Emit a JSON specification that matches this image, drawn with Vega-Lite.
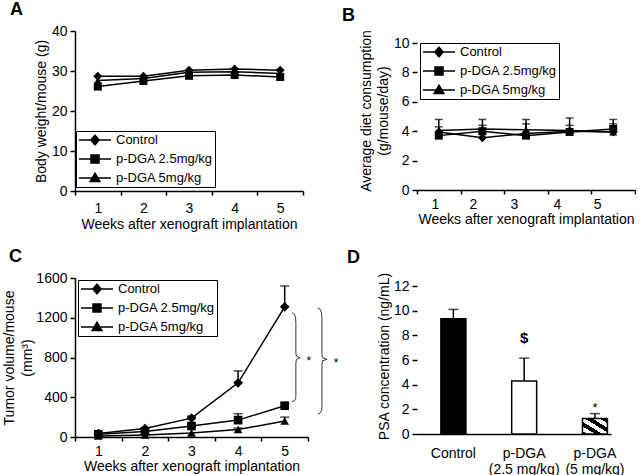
{
  "$schema": "https://vega.github.io/schema/vega-lite/v6.json",
  "padding": {"left": 2, "top": 1, "right": 0, "bottom": 0},
  "columns": 2,
  "spacing": {"row": 87, "column": 109},
  "bounds": "flush",
  "align": "each",
  "resolve": {"scale": {"shape": "independent"}, "legend": {"shape": "independent"}},
  "config": {
    "font": "Liberation Sans",
    "view": {"stroke": null},
    "axis": {"grid": false, "domainColor": "black", "domainWidth": 1.5, "tickColor": "black", "tickWidth": 1.5, "tickSize": 5, "labelColor": "black", "labelFontSize": 14, "labelFont": "Liberation Sans", "titleColor": "black", "titleFontSize": 14, "titleFont": "Liberation Sans", "titleFontWeight": "normal", "labelPadding": 3},
    "legend": {"orient": "none", "title": null, "direction": "vertical", "strokeColor": "black", "fillColor": "white", "padding": 2, "symbolSize": 1024, "symbolStrokeWidth": 1.5, "symbolFillColor": "black", "symbolStrokeColor": "black", "symbolOpacity": 1, "labelFontSize": 13, "labelFont": "Liberation Sans", "labelColor": "black", "clipHeight": 14, "rowPadding": 5, "labelOffset": 4},
    "title": {"fontSize": 18, "fontWeight": "bold", "anchor": "start", "frame": "group", "color": "black", "font": "Liberation Sans", "offset": 5}
  },
  "datasets": {
    "bw": [
      {"week": 1, "series": "Control", "value": 28.7},
      {"week": 2, "series": "Control", "value": 28.7},
      {"week": 3, "series": "Control", "value": 30.2},
      {"week": 4, "series": "Control", "value": 30.5},
      {"week": 5, "series": "Control", "value": 30.2},
      {"week": 1, "series": "p-DGA 2.5mg/kg", "value": 26.1},
      {"week": 2, "series": "p-DGA 2.5mg/kg", "value": 27.5},
      {"week": 3, "series": "p-DGA 2.5mg/kg", "value": 28.8},
      {"week": 4, "series": "p-DGA 2.5mg/kg", "value": 29.0},
      {"week": 5, "series": "p-DGA 2.5mg/kg", "value": 28.5},
      {"week": 1, "series": "p-DGA 5mg/kg", "value": 27.6},
      {"week": 2, "series": "p-DGA 5mg/kg", "value": 28.1},
      {"week": 3, "series": "p-DGA 5mg/kg", "value": 29.7},
      {"week": 4, "series": "p-DGA 5mg/kg", "value": 29.8},
      {"week": 5, "series": "p-DGA 5mg/kg", "value": 29.4}
    ],
    "diet": [
      {"week": 1, "series": "Control", "value": 3.95, "hi": 4.8},
      {"week": 2, "series": "Control", "value": 3.55, "hi": 4.8},
      {"week": 3, "series": "Control", "value": 3.85, "hi": 4.5},
      {"week": 4, "series": "Control", "value": 4.0, "hi": 4.4},
      {"week": 5, "series": "Control", "value": 3.95, "hi": 4.8},
      {"week": 1, "series": "p-DGA 2.5mg/kg", "value": 3.7, "hi": 4.3},
      {"week": 2, "series": "p-DGA 2.5mg/kg", "value": 4.0, "hi": 4.4},
      {"week": 3, "series": "p-DGA 2.5mg/kg", "value": 3.7, "hi": null},
      {"week": 4, "series": "p-DGA 2.5mg/kg", "value": 3.95, "hi": null},
      {"week": 5, "series": "p-DGA 2.5mg/kg", "value": 4.15, "hi": 4.5},
      {"week": 1, "series": "p-DGA 5mg/kg", "value": 4.05, "hi": null},
      {"week": 2, "series": "p-DGA 5mg/kg", "value": 4.15, "hi": null},
      {"week": 3, "series": "p-DGA 5mg/kg", "value": 4.1, "hi": 4.8},
      {"week": 4, "series": "p-DGA 5mg/kg", "value": 4.05, "hi": 4.9},
      {"week": 5, "series": "p-DGA 5mg/kg", "value": 3.95, "hi": null}
    ],
    "tumor": [
      {"week": 1, "series": "Control", "value": 35, "hi": null},
      {"week": 2, "series": "Control", "value": 85, "hi": null},
      {"week": 3, "series": "Control", "value": 190, "hi": 210},
      {"week": 4, "series": "Control", "value": 545, "hi": 665},
      {"week": 5, "series": "Control", "value": 1310, "hi": 1520},
      {"week": 1, "series": "p-DGA 2.5mg/kg", "value": 28, "hi": null},
      {"week": 2, "series": "p-DGA 2.5mg/kg", "value": 55, "hi": null},
      {"week": 3, "series": "p-DGA 2.5mg/kg", "value": 110, "hi": 130},
      {"week": 4, "series": "p-DGA 2.5mg/kg", "value": 170, "hi": 235},
      {"week": 5, "series": "p-DGA 2.5mg/kg", "value": 315, "hi": 340},
      {"week": 1, "series": "p-DGA 5mg/kg", "value": 10, "hi": null},
      {"week": 2, "series": "p-DGA 5mg/kg", "value": 20, "hi": null},
      {"week": 3, "series": "p-DGA 5mg/kg", "value": 40, "hi": null},
      {"week": 4, "series": "p-DGA 5mg/kg", "value": 75, "hi": 90},
      {"week": 5, "series": "p-DGA 5mg/kg", "value": 160, "hi": 200}
    ],
    "braces": [
      {"b": 1, "o": 1, "week": 5.16, "value": 1250},
      {"b": 1, "o": 2, "week": 5.21, "value": 1235},
      {"b": 1, "o": 3, "week": 5.235, "value": 1200},
      {"b": 1, "o": 4, "week": 5.24, "value": 1140},
      {"b": 1, "o": 5, "week": 5.24, "value": 850},
      {"b": 1, "o": 6, "week": 5.25, "value": 815},
      {"b": 1, "o": 7, "week": 5.33, "value": 797},
      {"b": 1, "o": 8, "week": 5.25, "value": 780},
      {"b": 1, "o": 9, "week": 5.24, "value": 745},
      {"b": 1, "o": 10, "week": 5.24, "value": 420},
      {"b": 1, "o": 11, "week": 5.235, "value": 385},
      {"b": 1, "o": 12, "week": 5.21, "value": 365},
      {"b": 1, "o": 13, "week": 5.16, "value": 355},
      {"b": 2, "o": 1, "week": 5.71, "value": 1300},
      {"b": 2, "o": 2, "week": 5.76, "value": 1285},
      {"b": 2, "o": 3, "week": 5.79, "value": 1250},
      {"b": 2, "o": 4, "week": 5.8, "value": 1190},
      {"b": 2, "o": 5, "week": 5.8, "value": 830},
      {"b": 2, "o": 6, "week": 5.81, "value": 798},
      {"b": 2, "o": 7, "week": 5.91, "value": 782},
      {"b": 2, "o": 8, "week": 5.81, "value": 766},
      {"b": 2, "o": 9, "week": 5.8, "value": 735},
      {"b": 2, "o": 10, "week": 5.8, "value": 300},
      {"b": 2, "o": 11, "week": 5.79, "value": 265},
      {"b": 2, "o": 12, "week": 5.76, "value": 242},
      {"b": 2, "o": 13, "week": 5.71, "value": 230}
    ],
    "stars": [
      {"week": 5.52, "value": 760, "t": "*"},
      {"week": 6.1, "value": 745, "t": "*"}
    ],
    "psa": [
      {"group": "Control", "value": 9.35, "hi": 10.1, "mark": ""},
      {"group": "p-DGA 2.5", "value": 4.3, "hi": 6.15, "mark": "$"},
      {"group": "p-DGA 5", "value": 1.25, "hi": 1.65, "mark": "*"}
    ]
  },
  "concat": [
    {
      "width": 228, "height": 160,
      "title": {"text": "A", "dx": -65},
      "data": {"name": "bw"},
      "encoding": {
        "x": {"field": "week", "type": "quantitative", "scale": {"domain": [0.5, 5.5], "nice": false, "zero": false},
          "axis": {"values": [0.5, 1, 1.5, 2, 2.5, 3, 3.5, 4, 4.5, 5, 5.5], "labelExpr": "datum.value % 1 == 0 ? format(datum.value, 'd') : ''", "tickOpacity": {"condition": {"test": "datum.value % 1 == 0", "value": 0}, "value": 1}, "tickSize": 4, "labelPadding": 6, "title": "Weeks after xenograft implantation", "titlePadding": 2}},
        "y": {"field": "value", "type": "quantitative", "scale": {"domain": [0, 40], "nice": false},
          "axis": {"values": [0, 10, 20, 30, 40], "title": "Body weight/mouse (g)", "titlePadding": 3}}
      },
      "layer": [
        {"mark": {"type": "line", "color": "black", "strokeWidth": 1.5}, "encoding": {"detail": {"field": "series"}}},
        {"transform": [{"filter": "datum.series == 'Control'"}], "mark": {"type": "point", "shape": "diamond", "filled": true, "color": "black", "opacity": 1, "size": 80}},
        {"transform": [{"filter": "datum.series == 'p-DGA 2.5mg/kg'"}], "mark": {"type": "point", "shape": "square", "filled": true, "color": "black", "opacity": 1, "size": 64}},
        {"transform": [{"filter": "datum.series == 'p-DGA 5mg/kg'"}], "mark": {"type": "point", "shape": "triangle-up", "filled": true, "color": "black", "opacity": 1, "size": 64}},
        {"mark": {"type": "point", "filled": false, "color": "black", "strokeWidth": 1.5, "opacity": 0},
          "encoding": {"shape": {"field": "series", "type": "nominal", "scale": {"domain": ["Control", "p-DGA 2.5mg/kg", "p-DGA 5mg/kg"], "range": [
            "M-1,0L1,0M0,-0.3L0.26,0L0,0.3L-0.26,0ZM0,-0.23L0.2,0L0,0.23L-0.2,0ZM0,-0.16L0.14,0L0,0.16L-0.14,0ZM0,-0.09L0.08,0L0,0.09L-0.08,0ZM0,-0.02L0.02,0L0,0.02L-0.02,0Z",
            "M-1,0L1,0M-0.25,-0.25L0.25,-0.25L0.25,0.25L-0.25,0.25ZM-0.19,-0.19L0.19,-0.19L0.19,0.19L-0.19,0.19ZM-0.13,-0.13L0.13,-0.13L0.13,0.13L-0.13,0.13ZM-0.07,-0.07L0.07,-0.07L0.07,0.07L-0.07,0.07ZM-0.01,-0.01L0.01,-0.01L0.01,0.01L-0.01,0.01Z",
            "M-1,0L1,0M0,-0.3L0.3,0.22L-0.3,0.22ZM0,-0.213L0.225,0.177L-0.225,0.177ZM0,-0.127L0.15,0.134L-0.15,0.134ZM0,-0.04L0.075,0.09L-0.075,0.09Z"]},
            "legend": {"legendX": 1, "legendY": 100, "encode": {"symbols": {"update": {"stroke": {"value": "black"}, "strokeWidth": {"value": 1.5}, "opacity": {"value": 1}}}, "legend": {"update": {"stroke": {"value": "black"}, "strokeWidth": {"value": 1}}}}}}}}
      ]
    },
    {
      "width": 218, "height": 159,
      "title": {"text": "B", "dx": -75},
      "data": {"name": "diet"},
      "encoding": {
        "x": {"field": "week", "type": "quantitative", "scale": {"domain": [0.5, 5.5], "nice": false, "zero": false},
          "axis": {"values": [0.5, 0.91, 1.5, 1.78, 2.5, 2.72, 3.5, 3.71, 4.5, 4.63, 5.5], "labelExpr": "datum.value % 1 == 0.5 ? '' : format(round(datum.value), 'd')", "tickOpacity": {"condition": {"test": "datum.value % 1 != 0.5", "value": 0}, "value": 1}, "tickSize": 4, "labelPadding": 3, "title": "Weeks after xenograft implantation", "titlePadding": 1}},
        "y": {"field": "value", "type": "quantitative", "scale": {"domain": [0, 10.82], "nice": false},
          "axis": {"values": [0, 2, 4, 6, 8, 10], "domain": false, "title": ["Average diet consumption", "(g/mouse/day)"], "titleLineHeight": 17, "titlePadding": 3}}
      },
      "layer": [
        {"data": {"values": [{}]}, "mark": {"type": "rule", "color": "black", "strokeWidth": 1.5},
          "encoding": {"x": {"datum": 0.5, "type": "quantitative"}, "y": {"datum": 0, "type": "quantitative"}, "y2": {"datum": 10}}},
        {"mark": {"type": "line", "color": "black", "strokeWidth": 1.5}, "encoding": {"detail": {"field": "series"}}},
        {"transform": [{"filter": "datum.hi != null"}], "mark": {"type": "rule", "color": "black", "strokeWidth": 1.5}, "encoding": {"y2": {"field": "hi"}}},
        {"transform": [{"filter": "datum.hi != null"}], "mark": {"type": "tick", "orient": "horizontal", "color": "black", "size": 8, "thickness": 1.5}, "encoding": {"y": {"field": "hi", "type": "quantitative"}}},
        {"transform": [{"filter": "datum.series == 'Control'"}], "mark": {"type": "point", "shape": "diamond", "filled": true, "color": "black", "opacity": 1, "size": 80}},
        {"transform": [{"filter": "datum.series == 'p-DGA 2.5mg/kg'"}], "mark": {"type": "point", "shape": "square", "filled": true, "color": "black", "opacity": 1, "size": 64}},
        {"transform": [{"filter": "datum.series == 'p-DGA 5mg/kg'"}], "mark": {"type": "point", "shape": "triangle-up", "filled": true, "color": "black", "opacity": 1, "size": 64}},
        {"mark": {"type": "point", "filled": false, "color": "black", "strokeWidth": 1.5, "opacity": 0},
          "encoding": {"shape": {"field": "series", "type": "nominal", "scale": {"domain": ["Control", "p-DGA 2.5mg/kg", "p-DGA 5mg/kg"], "range": [
            "M-1,0L1,0M0,-0.3L0.26,0L0,0.3L-0.26,0ZM0,-0.23L0.2,0L0,0.23L-0.2,0ZM0,-0.16L0.14,0L0,0.16L-0.14,0ZM0,-0.09L0.08,0L0,0.09L-0.08,0ZM0,-0.02L0.02,0L0,0.02L-0.02,0Z",
            "M-1,0L1,0M-0.25,-0.25L0.25,-0.25L0.25,0.25L-0.25,0.25ZM-0.19,-0.19L0.19,-0.19L0.19,0.19L-0.19,0.19ZM-0.13,-0.13L0.13,-0.13L0.13,0.13L-0.13,0.13ZM-0.07,-0.07L0.07,-0.07L0.07,0.07L-0.07,0.07ZM-0.01,-0.01L0.01,-0.01L0.01,0.01L-0.01,0.01Z",
            "M-1,0L1,0M0,-0.3L0.3,0.22L-0.3,0.22ZM0,-0.213L0.225,0.177L-0.225,0.177ZM0,-0.127L0.15,0.134L-0.15,0.134ZM0,-0.04L0.075,0.09L-0.075,0.09Z"]},
            "legend": {"legendX": 3, "legendY": 12, "encode": {"symbols": {"update": {"stroke": {"value": "black"}, "strokeWidth": {"value": 1.5}, "opacity": {"value": 1}}}, "legend": {"update": {"stroke": {"value": "black"}, "strokeWidth": {"value": 1}}}}}}}}
      ]
    },
    {
      "width": 233, "height": 159,
      "title": {"text": "C", "dx": -66},
      "data": {"name": "tumor"},
      "encoding": {
        "x": {"field": "week", "type": "quantitative", "scale": {"domain": [0.5, 5.5], "nice": false, "zero": false},
          "axis": {"values": [0.5, 1, 1.5, 2, 2.5, 3, 3.5, 4, 4.5, 5, 5.5], "labelExpr": "datum.value % 1 == 0 ? format(datum.value, 'd') : ''", "tickOpacity": {"condition": {"test": "datum.value % 1 == 0", "value": 0}, "value": 1}, "tickSize": 4, "labelPadding": 3, "title": "Weeks after xenograft implantation", "titlePadding": 1}},
        "y": {"field": "value", "type": "quantitative", "scale": {"domain": [0, 1600], "nice": false},
          "axis": {"values": [0, 400, 800, 1200, 1600], "format": "d", "title": ["Tumor volume/mouse", "(mm³)"], "titleLineHeight": 18, "titlePadding": 1}}
      },
      "layer": [
        {"mark": {"type": "line", "color": "black", "strokeWidth": 1.5}, "encoding": {"detail": {"field": "series"}}},
        {"transform": [{"filter": "datum.hi != null"}], "mark": {"type": "rule", "color": "black", "strokeWidth": 1.5}, "encoding": {"y2": {"field": "hi"}}},
        {"transform": [{"filter": "datum.hi != null"}], "mark": {"type": "tick", "orient": "horizontal", "color": "black", "size": 9, "thickness": 1.5}, "encoding": {"y": {"field": "hi", "type": "quantitative"}}},
        {"transform": [{"filter": "datum.series == 'Control'"}], "mark": {"type": "point", "shape": "diamond", "filled": true, "color": "black", "opacity": 1, "size": 95}},
        {"transform": [{"filter": "datum.series == 'p-DGA 2.5mg/kg'"}], "mark": {"type": "point", "shape": "square", "filled": true, "color": "black", "opacity": 1, "size": 75}},
        {"transform": [{"filter": "datum.series == 'p-DGA 5mg/kg'"}], "mark": {"type": "point", "shape": "triangle-up", "filled": true, "color": "black", "opacity": 1, "size": 75}},
        {"mark": {"type": "point", "filled": false, "color": "black", "strokeWidth": 1.5, "opacity": 0},
          "encoding": {"shape": {"field": "series", "type": "nominal", "scale": {"domain": ["Control", "p-DGA 2.5mg/kg", "p-DGA 5mg/kg"], "range": [
            "M-1,0L1,0M0,-0.3L0.26,0L0,0.3L-0.26,0ZM0,-0.23L0.2,0L0,0.23L-0.2,0ZM0,-0.16L0.14,0L0,0.16L-0.14,0ZM0,-0.09L0.08,0L0,0.09L-0.08,0ZM0,-0.02L0.02,0L0,0.02L-0.02,0Z",
            "M-1,0L1,0M-0.25,-0.25L0.25,-0.25L0.25,0.25L-0.25,0.25ZM-0.19,-0.19L0.19,-0.19L0.19,0.19L-0.19,0.19ZM-0.13,-0.13L0.13,-0.13L0.13,0.13L-0.13,0.13ZM-0.07,-0.07L0.07,-0.07L0.07,0.07L-0.07,0.07ZM-0.01,-0.01L0.01,-0.01L0.01,0.01L-0.01,0.01Z",
            "M-1,0L1,0M0,-0.3L0.3,0.22L-0.3,0.22ZM0,-0.213L0.225,0.177L-0.225,0.177ZM0,-0.127L0.15,0.134L-0.15,0.134ZM0,-0.04L0.075,0.09L-0.075,0.09Z"]},
            "legend": {"legendX": 3, "legendY": 2, "encode": {"symbols": {"update": {"stroke": {"value": "black"}, "strokeWidth": {"value": 1.5}, "opacity": {"value": 1}}}, "legend": {"update": {"stroke": {"value": "black"}, "strokeWidth": {"value": 1}}}}}}}},
        {"data": {"name": "braces"}, "mark": {"type": "line", "color": "#333333", "strokeWidth": 1}, "encoding": {"detail": {"field": "b"}, "order": {"field": "o", "type": "quantitative"}}},
        {"data": {"name": "stars"}, "mark": {"type": "text", "fontSize": 12, "color": "black", "baseline": "middle", "align": "center"}, "encoding": {"text": {"field": "t"}}}
      ]
    },
    {
      "width": 194, "height": 156,
      "title": {"text": "D", "dx": -70},
      "data": {"name": "psa"},
      "encoding": {
        "x": {"field": "group", "type": "nominal", "scale": {"type": "band", "domain": ["Control", "p-DGA 2.5", "p-DGA 5"], "paddingInner": 0.647, "paddingOuter": 0.194, "align": 0.87},
          "axis": {"title": null, "ticks": false, "tickSize": 0, "labelAngle": 0, "labelPadding": 12, "labelBaseline": "top", "labelLineHeight": 16, "labelExpr": "datum.value == 'Control' ? 'Control' : datum.value == 'p-DGA 2.5' ? ['p-DGA', '(2.5 mg/kg)'] : ['p-DGA', '(5 mg/kg)']"}},
        "y": {"field": "value", "type": "quantitative", "scale": {"domain": [0, 12.65], "nice": false},
          "axis": {"values": [0, 2, 4, 6, 8, 10, 12], "domain": false, "title": "PSA concentration (ng/mL)", "titlePadding": 2}}
      },
      "layer": [
        {"data": {"values": [{}]}, "mark": {"type": "rule", "color": "black", "strokeWidth": 1.5},
          "encoding": {"x": null, "y": {"datum": 0, "type": "quantitative"}, "y2": {"datum": 12}}},
        {"transform": [{"filter": "datum.group != 'Control'"}], "mark": {"type": "rule", "color": "black", "strokeWidth": 1.5}, "encoding": {"y2": {"field": "hi"}}},
        {"mark": {"type": "bar", "stroke": "black", "strokeWidth": 1.5},
          "encoding": {"fill": {"condition": [{"test": "datum.group == 'Control'", "value": "black"}, {"test": "datum.group == 'p-DGA 2.5'", "value": "white"}],
            "value": {"gradient": "linear", "x1": 0, "y1": 1, "x2": 1, "y2": 0, "stops": [
              {"offset": 0, "color": "black"}, {"offset": 0.1, "color": "black"}, {"offset": 0.1, "color": "white"}, {"offset": 0.25, "color": "white"},
              {"offset": 0.25, "color": "black"}, {"offset": 0.4, "color": "black"}, {"offset": 0.4, "color": "white"}, {"offset": 0.55, "color": "white"},
              {"offset": 0.55, "color": "black"}, {"offset": 0.7, "color": "black"}, {"offset": 0.7, "color": "white"}, {"offset": 0.85, "color": "white"},
              {"offset": 0.85, "color": "black"}, {"offset": 1, "color": "black"}]}}}},
        {"transform": [{"filter": "datum.group == 'Control'"}], "mark": {"type": "rule", "color": "black", "strokeWidth": 1.5}, "encoding": {"y2": {"field": "hi"}}},
        {"mark": {"type": "tick", "orient": "horizontal", "color": "black", "size": 10, "thickness": 1.5}, "encoding": {"y": {"field": "hi", "type": "quantitative"}}},
        {"transform": [{"filter": "datum.mark == '$'"}], "mark": {"type": "text", "fontSize": 15, "fontWeight": "bold", "color": "black", "baseline": "middle", "dy": -20}, "encoding": {"text": {"field": "mark"}, "y": {"field": "hi", "type": "quantitative"}}},
        {"transform": [{"filter": "datum.mark == '*'"}], "mark": {"type": "text", "fontSize": 13, "color": "black", "baseline": "middle", "dy": -6}, "encoding": {"text": {"field": "mark"}, "y": {"field": "hi", "type": "quantitative"}}}
      ]
    }
  ]
}
